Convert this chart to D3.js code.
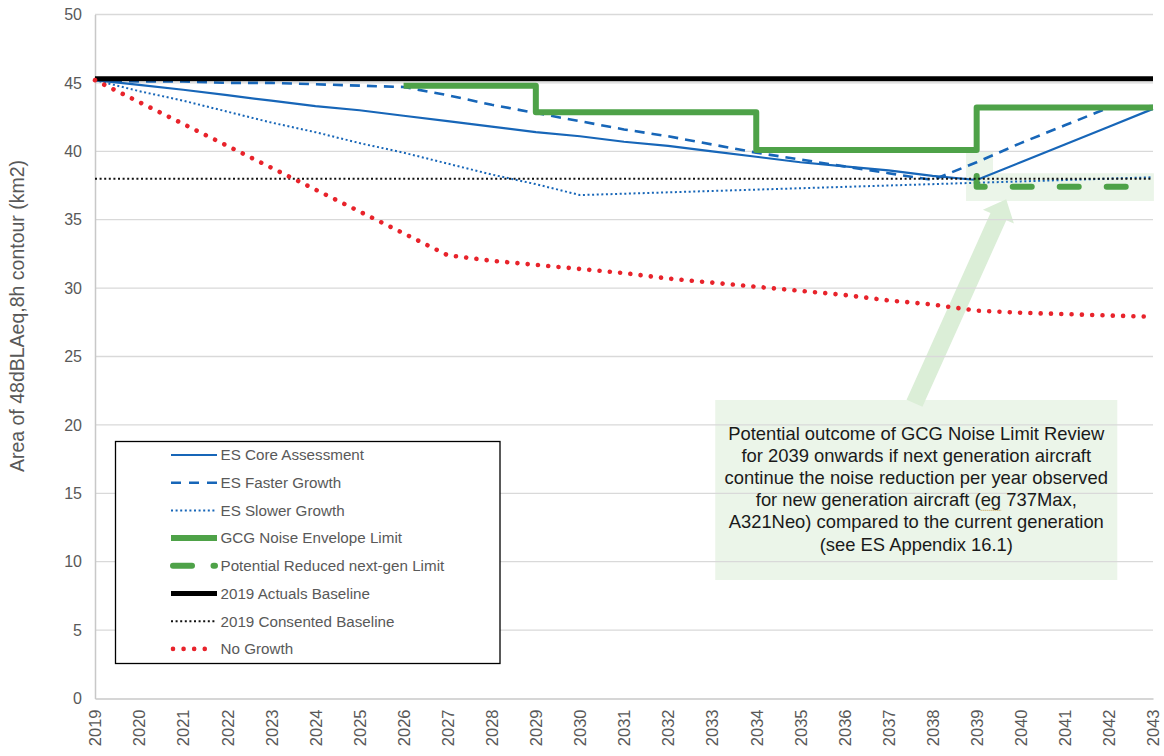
<!DOCTYPE html>
<html>
<head>
<meta charset="utf-8">
<script src="https://cdn.jsdelivr.net/npm/d3@7"></script>
<style>
  body { margin: 0; background: #fff; }
  svg { font-family: "Liberation Sans", Arial, sans-serif; }
</style>
</head>
<body>
<div id="chart"></div>
<script>
// years on the category axis
var years = [2019, 2020, 2021, 2022, 2023, 2024, 2025, 2026, 2027, 2028, 2029, 2030,
  2031, 2032, 2033, 2034, 2035, 2036, 2037, 2038, 2039, 2040, 2041, 2042, 2043];

// series values (km2)
var coreAssessment = [45.2, 44.85, 44.5, 44.1, 43.7, 43.3, 43.0, 42.6, 42.2, 41.8, 41.4, 41.1,
  40.7, 40.4, 40.0, 39.6, 39.2, 38.9, 38.6, 38.2, 37.9, 39.2, 40.5, 41.8, 43.1];
var fasterGrowth = [45.2, 45.1, 45.1, 45.0, 45.0, 44.9, 44.8, 44.7, 44.1, 43.4, 42.8, 42.2,
  41.6, 41.1, 40.5, 39.9, 39.4, 38.9, 38.4, 37.9, 39.2, 40.6, 41.9, 43.2, 43.3];
var slowerGrowth = [45.2, 44.4, 43.7, 42.9, 42.1, 41.4, 40.6, 39.9, 39.1, 38.3, 37.6, 36.8,
  36.9, 37.0, 37.1, 37.2, 37.3, 37.4, 37.5, 37.6, 37.7, 37.8, 37.9, 38.0, 38.1];
var gcgLimit = [null, null, null, null, null, null, null, 44.8, 44.8, 44.8, 42.85, 42.85,
  42.85, 42.85, 42.85, 40.1, 40.1, 40.1, 40.1, 40.1, 43.2, 43.2, 43.2, 43.2, 43.2];
var reducedLimit = [null, null, null, null, null, null, null, null, null, null, null, null,
  null, null, null, null, null, null, null, null, 38.2, 37.4, 37.4, 37.4, 37.4];
var actualsBaseline = [45.3, 45.3, 45.3, 45.3, 45.3, 45.3, 45.3, 45.3, 45.3, 45.3, 45.3, 45.3,
  45.3, 45.3, 45.3, 45.3, 45.3, 45.3, 45.3, 45.3, 45.3, 45.3, 45.3, 45.3, 45.3];
var consentedBaseline = [38.0, 38.0, 38.0, 38.0, 38.0, 38.0, 38.0, 38.0, 38.0, 38.0, 38.0, 38.0,
  38.0, 38.0, 38.0, 38.0, 38.0, 38.0, 38.0, 38.0, 38.0, 38.0, 38.0, 38.0, 38.0];
var noGrowth = [45.2, 43.6, 42.0, 40.4, 38.8, 37.2, 35.6, 34.0, 32.4, 32.0, 31.7, 31.4,
  31.1, 30.7, 30.4, 30.1, 29.8, 29.5, 29.1, 28.8, 28.35, 28.2, 28.1, 28.0, 27.9];

var yTicks = [0, 5, 10, 15, 20, 25, 30, 35, 40, 45, 50];
var yTitle = "Area of 48dBLAeq,8h contour (km2)";

var annotationLines = [
  "Potential outcome of GCG Noise Limit Review",
  "for 2039 onwards if next generation aircraft",
  "continue the noise reduction per year observed",
  "for new generation aircraft (eg 737Max,",
  "A321Neo) compared to the current generation",
  "(see ES Appendix 16.1)"
];

// series styling, in legend order
var series = [
  {name: "ES Core Assessment", values: coreAssessment, color: "#1766b8", width: 2.2, dash: null, cap: "butt", curve: d3.curveLinear, legendDash: null},
  {name: "ES Faster Growth", values: fasterGrowth, color: "#1766b8", width: 2.6, dash: "10,7", cap: "butt", curve: d3.curveLinear, legendDash: "10,8"},
  {name: "ES Slower Growth", values: slowerGrowth, color: "#1766b8", width: 2, dash: "2,2.6", cap: "butt", curve: d3.curveLinear, legendDash: "2,2.6"},
  {name: "GCG Noise Envelope Limit", values: gcgLimit, color: "#4ea248", width: 6, dash: null, cap: "butt", curve: d3.curveStepAfter, legendDash: null},
  {name: "Potential Reduced next-gen Limit", values: reducedLimit, color: "#4ea248", width: 6, dash: "19,28", cap: "round", curve: d3.curveStepBefore, legendDash: "19,21.5"},
  {name: "2019 Actuals Baseline", values: actualsBaseline, color: "#000000", width: 5, dash: null, cap: "butt", curve: d3.curveLinear, legendDash: null},
  {name: "2019 Consented Baseline", values: consentedBaseline, color: "#111111", width: 2, dash: "2,2.6", cap: "butt", curve: d3.curveLinear, legendDash: "2,2.6"},
  {name: "No Growth", values: noGrowth, color: "#e8232b", width: 4.6, dash: "0.01,10.3", cap: "round", curve: d3.curveLinear, legendDash: "0.01,10.57"}
];

// setup
var width = 1164, height = 756;
var margin = {top: 14.5, right: 11, bottom: 57.5, left: 95};

var svg = d3.select("#chart").append("svg")
  .attr("width", width)
  .attr("height", height);

var x = d3.scaleLinear().domain([2019, 2043]).range([margin.left, width - margin.right]);
var y = d3.scaleLinear().domain([0, 50]).range([height - margin.bottom, margin.top]);

// annotation backgrounds (drawn under grid and lines)
var noteBox = {x0: 2033.07, x1: 2042.19, y0: 21.82, y1: 8.66};
svg.append("rect")
  .attr("x", x(noteBox.x0))
  .attr("y", y(noteBox.y0))
  .attr("width", x(noteBox.x1) - x(noteBox.x0))
  .attr("height", y(noteBox.y1) - y(noteBox.y0))
  .attr("fill", "#ebf5e9");

// highlight round the reduced limit
var hl = [[2038.76, 39.95], [2039.37, 39.95], [2039.37, 38.39], [2043.02, 38.39], [2043.02, 36.37], [2038.76, 36.37]];
svg.append("path")
  .attr("d", "M" + hl.map(function(p) { return x(p[0]) + "," + y(p[1]); }).join("L") + "Z")
  .attr("fill", "#ebf5e9");

// arrow from the note to the highlight
var arrowTail = [2037.59, 21.58], arrowTip = [2039.67, 36.49];
(function() {
  var tx = x(arrowTail[0]), ty = y(arrowTail[1]);
  var hx = x(arrowTip[0]), hy = y(arrowTip[1]);
  var dx = hx - tx, dy = hy - ty, len = Math.sqrt(dx * dx + dy * dy);
  var ux = dx / len, uy = dy / len, px = -uy, py = ux;
  var shaft = 8.7, head = 17, headLen = 19;
  var bx = hx - ux * headLen, by = hy - uy * headLen;
  var pts = [
    [tx + px * shaft, ty + py * shaft],
    [bx + px * shaft, by + py * shaft],
    [bx + px * head, by + py * head],
    [hx, hy],
    [bx - px * head, by - py * head],
    [bx - px * shaft, by - py * shaft],
    [tx - px * shaft, ty - py * shaft]
  ];
  svg.append("path")
    .attr("d", "M" + pts.map(function(p) { return p[0] + "," + p[1]; }).join("L") + "Z")
    .attr("fill", "#dbeed7");
})();

// gridlines
svg.append("g")
  .selectAll("line")
  .data(yTicks.filter(function(d) { return d > 0; }))
  .enter()
  .append("line")
  .attr("x1", x(2019))
  .attr("x2", x(2043))
  .attr("y1", function(d) { return y(d); })
  .attr("y2", function(d) { return y(d); })
  .attr("stroke", "#d9d9d9")
  .attr("stroke-width", 1.3);

// y axis
var yAxis = svg.append("g")
  .attr("transform", "translate(" + margin.left + ",0)")
  .call(d3.axisLeft(y).tickValues(yTicks).tickSize(0).tickPadding(13));
yAxis.select(".domain").attr("stroke", "#c8c8c8").attr("stroke-width", 1.5);
yAxis.selectAll("text")
  .attr("fill", "#595959")
  .style("font-size", "16px")
  .style("font-family", "Liberation Sans, Arial, sans-serif");

// x axis
var xAxis = svg.append("g")
  .attr("transform", "translate(0," + y(0) + ")")
  .call(d3.axisBottom(x).tickValues(years).tickFormat(d3.format("d")).tickSize(0));
xAxis.select(".domain").attr("stroke", "#c8c8c8").attr("stroke-width", 1.5);
xAxis.selectAll("text")
  .attr("transform", "rotate(-90)")
  .attr("x", -11)
  .attr("y", 0)
  .attr("dy", "0.35em")
  .style("text-anchor", "end")
  .attr("fill", "#595959")
  .style("font-size", "16.5px")
  .style("font-family", "Liberation Sans, Arial, sans-serif");

// y title
svg.append("text")
  .attr("transform", "translate(17,316) rotate(-90)")
  .attr("text-anchor", "middle")
  .attr("dy", "0.35em")
  .attr("fill", "#595959")
  .style("font-size", "19.5px")
  .text(yTitle);

// series lines
series.forEach(function(s) {
  var line = d3.line()
    .defined(function(d) { return d[1] !== null; })
    .x(function(d) { return x(d[0]); })
    .y(function(d) { return y(d[1]); })
    .curve(s.curve);
  svg.append("path")
    .datum(years.map(function(yr, i) { return [yr, s.values[i]]; }))
    .attr("d", line)
    .attr("fill", "none")
    .attr("stroke", s.color)
    .attr("stroke-width", s.width)
    .attr("stroke-dasharray", s.dash)
    .attr("stroke-linecap", s.cap)
    .attr("stroke-linejoin", "round");
});

// annotation text
var noteCx = (x(noteBox.x0) + x(noteBox.x1)) / 2;
var note = svg.append("g");
annotationLines.forEach(function(t, i) {
  var ty = 440 + i * 22.1;
  var tEl = note.append("text")
    .attr("x", noteCx)
    .attr("y", ty)
    .attr("text-anchor", "middle")
    .attr("fill", "#1a1a1a")
    .style("font-size", "18.4px")
    .text(t);
  var k = t.indexOf("(eg ");
  if (k >= 0) {
    var node = tEl.node();
    var s0 = node.getStartPositionOfChar(k + 1).x;
    var s1 = node.getEndPositionOfChar(k + 2).x;
    note.append("line")
      .attr("x1", s0).attr("x2", s1)
      .attr("y1", ty + 4).attr("y2", ty + 4)
      .attr("stroke", "#c8963c")
      .attr("stroke-width", 1)
      .attr("stroke-dasharray", "1,1");
  }
});

// legend
var legend = svg.append("g");
legend.append("rect")
  .attr("x", 115.5)
  .attr("y", 441.5)
  .attr("width", 384.5)
  .attr("height", 222)
  .attr("fill", "#fff")
  .attr("stroke", "#000")
  .attr("stroke-width", 1.3);

var items = legend.selectAll("g.item")
  .data(series)
  .enter()
  .append("g")
  .attr("class", "item")
  .attr("transform", function(d, i) { return "translate(0," + (455 + i * 27.7) + ")"; });

items.append("line")
  .attr("x1", function(d) { return d.cap === "round" ? 173 : 171; })
  .attr("x2", function(d) { return d.cap === "round" ? 215 : 217; })
  .attr("y1", 0)
  .attr("y2", 0)
  .attr("stroke", function(d) { return d.color; })
  .attr("stroke-width", function(d) { return d.width; })
  .attr("stroke-dasharray", function(d) { return d.legendDash; })
  .attr("stroke-linecap", function(d) { return d.cap; });

items.append("text")
  .attr("x", 220.5)
  .attr("y", 0)
  .attr("dy", "0.35em")
  .attr("fill", "#595959")
  .style("font-size", "15.2px")
  .text(function(d) { return d.name; });
</script>
</body>
</html>
